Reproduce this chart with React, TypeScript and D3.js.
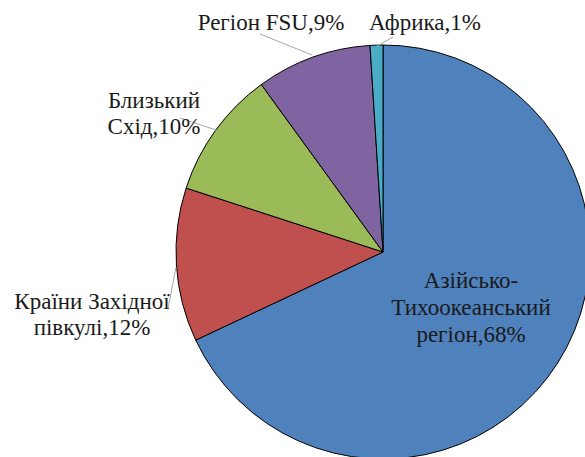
import React from "react";
import * as d3 from "d3";

const categories = [
  "Азійсько-Тихоокеанський регіон",
  "Країни Західної півкулі",
  "Близький Схід",
  "Регіон FSU",
  "Африка",
];
const values = [68, 12, 10, 9, 1];
const colors = ["#4F81BD", "#C0504D", "#9BBB59", "#8064A2", "#4BACC6"];
const labelLines = [
  ["Азійсько-", "Тихоокеанський", "регіон,68%"],
  ["Країни Західної", "півкулі,12%"],
  ["Близький", "Схід,10%"],
  ["Регіон FSU,9%"],
  ["Африка,1%"],
];
// label anchor (x, first baseline y), line spacing and leader line end points
const labelPos = [
  { x: 471, y: 288, lh: 27, leader: null },
  { x: 92, y: 309, lh: 26, leader: [[176, 267], [168, 309]] },
  { x: 154, y: 108, lh: 26, leader: [[180, 118], [216, 130]] },
  { x: 271, y: 30, lh: 26, leader: [[260, 34], [312, 55]] },
  { x: 425, y: 30, lh: 26, leader: [[393, 37], [377, 46]] },
];

const W = 585;
const H = 457;
const cx = 383;
const cy = 252;
const R = 207;

export default function App() {
  const pie = d3
    .pie<number>()
    .sort(null)
    .value((d) => d)
    .startAngle(0)
    .endAngle(2 * Math.PI);
  const arcs = pie(values);
  const arc = d3.arc<d3.PieArcDatum<number>>().innerRadius(0).outerRadius(R);
  return (
    <svg
      width={W}
      height={H}
      style={{ position: "absolute", left: 0, top: 0, background: "#fff" }}
    >
      <g transform={`translate(${cx},${cy})`}>
        {arcs.map((a, i) => (
          <path
            key={categories[i]}
            d={arc(a) || ""}
            fill={colors[i]}
            stroke="#000"
            strokeWidth={1}
          />
        ))}
      </g>
      {labelPos.map((p, i) =>
        p.leader ? (
          <line
            key={"l" + i}
            x1={p.leader[0][0]}
            y1={p.leader[0][1]}
            x2={p.leader[1][0]}
            y2={p.leader[1][1]}
            stroke="#a6a6a6"
            strokeWidth={1}
          />
        ) : null
      )}
      {labelPos.map((p, i) => (
        <text
          key={"t" + i}
          textAnchor="middle"
          fontFamily="Liberation Serif"
          fontSize={23}
          fill="#1a1a1a"
        >
          {labelLines[i].map((ln, j) => (
            <tspan key={j} x={p.x} y={p.y + j * p.lh}>
              {ln}
            </tspan>
          ))}
        </text>
      ))}
    </svg>
  );
}
